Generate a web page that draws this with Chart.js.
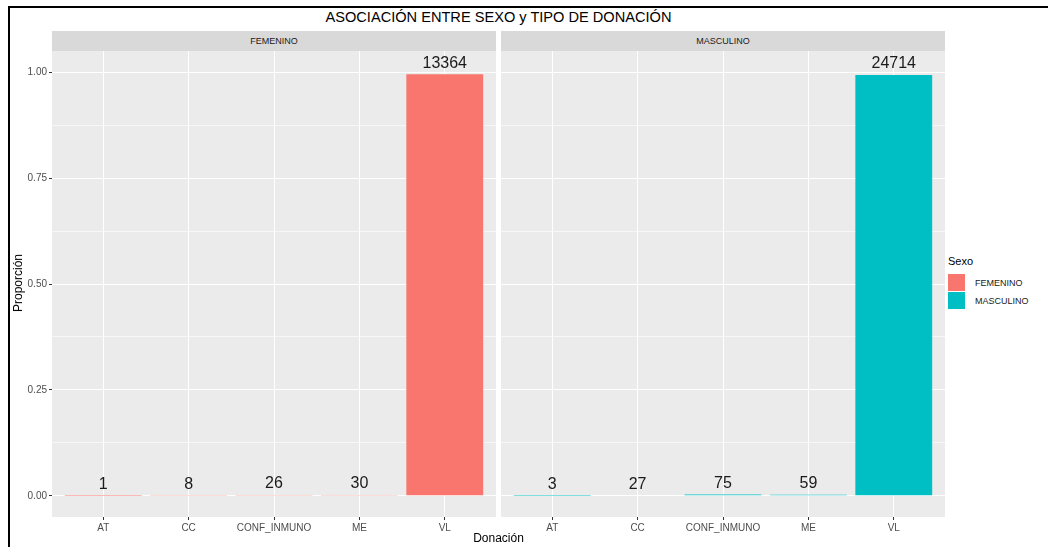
<!DOCTYPE html>
<html>
<head>
<meta charset="utf-8">
<script src="https://cdn.jsdelivr.net/npm/chart.js@4"></script>
<style>
  body { margin: 0; background: #fff; font-family: "Liberation Sans", Arial, sans-serif; }
  #wrap { position: relative; width: 1048px; height: 547px; overflow: hidden; }
  .abs { position: absolute; }
  .strip { background: #d9d9d9; color: #1a1a1a; font-size: 9px; text-align: center; line-height: 20px; top: 31px; height: 20px; }
  #title { left: 52px; width: 893px; top: 9px; text-align: center; font-size: 14.6px; color: #000; }
  #xtitle { left: 52px; width: 893px; top: 531px; text-align: center; font-size: 12px; color: #000; }
  #ytitle { left: 18px; top: 283px; font-size: 12px; color: #000; transform: translate(-50%, -50%) rotate(-90deg); white-space: nowrap; }
  .key { width: 17px; height: 17px; left: 948px; }
  .keylab { left: 975px; font-size: 9px; color: #1a1a1a; }
</style>
</head>
<body>
<div id="wrap">
  <div class="abs" style="left:8px;top:6px;width:1040px;height:2px;background:#000"></div>
  <div class="abs" style="left:8px;top:6px;width:2px;height:541px;background:#000"></div>
  <div id="title" class="abs">ASOCIACIÓN ENTRE SEXO y TIPO DE DONACIÓN</div>
  <div class="abs strip" style="left:52px;width:444px">FEMENINO</div>
  <div class="abs strip" style="left:501px;width:444px">MASCULINO</div>
  <canvas id="chartFem" class="abs" style="left:0;top:51px"></canvas>
  <canvas id="chartMasc" class="abs" style="left:501px;top:51px"></canvas>
  <div id="ytitle" class="abs">Proporción</div>
  <div id="xtitle" class="abs">Donación</div>
  <div class="abs" style="left:948px;top:255px;font-size:11px;color:#000">Sexo</div>
  <div class="abs key" style="top:274px;background:#F8766D"></div>
  <div class="abs key" style="top:292px;background:#00BFC4"></div>
  <div class="abs keylab" style="top:278px">FEMENINO</div>
  <div class="abs keylab" style="top:296px">MASCULINO</div>
</div>
<script>
const categories = ['AT', 'CC', 'CONF_INMUNO', 'ME', 'VL'];
const femeninoCounts = [1, 8, 26, 30, 13364];
const masculinoCounts = [3, 27, 75, 59, 24714];
const femeninoProp = [0.0001, 0.0006, 0.0019, 0.0022, 0.9952];
const masculinoProp = [0.0001, 0.0011, 0.0030, 0.0024, 0.9934];
const yTicks = [0, 0.125, 0.25, 0.375, 0.5, 0.625, 0.75, 0.875, 1];

// fondo gris del panel
const panelBg = {
  id: 'panelBg',
  beforeDraw(chart) {
    const a = chart.chartArea;
    chart.ctx.save();
    chart.ctx.fillStyle = '#ebebeb';
    chart.ctx.fillRect(a.left, a.top, a.right - a.left, a.bottom - a.top);
    chart.ctx.restore();
  }
};

// etiquetas con los conteos encima de cada barra
const countLabels = {
  id: 'countLabels',
  afterDatasetsDraw(chart) {
    const ctx = chart.ctx;
    const counts = chart.options.plugins.countLabels.counts;
    ctx.save();
    ctx.font = '16px "Liberation Sans", Arial, sans-serif';
    ctx.fillStyle = '#1a1a1a';
    ctx.textAlign = 'center';
    ctx.textBaseline = 'bottom';
    chart.getDatasetMeta(0).data.forEach((bar, i) => {
      ctx.fillText(counts[i], bar.x, bar.y - 3);
    });
    ctx.restore();
  }
};

function makeChart(id, values, counts, color, showY, width) {
  const canvas = document.getElementById(id);
  canvas.width = width;
  canvas.height = 496;
  canvas.style.width = width + 'px';
  canvas.style.height = '496px';
  return new Chart(canvas, {
    type: 'bar',
    data: {
      datasets: [{
        data: values.map((v, i) => ({ x: i, y: v })),
        backgroundColor: color,
        borderWidth: 0,
        barPercentage: 0.9,
        categoryPercentage: 1
      }]
    },
    options: {
      responsive: false,
      animation: false,
      events: [],
      layout: { padding: 0 },
      plugins: {
        legend: { display: false },
        tooltip: { enabled: false },
        countLabels: { counts: counts }
      },
      scales: {
        x: {
          type: 'linear',
          min: -0.6,
          max: 4.6,
          offset: false,
          afterBuildTicks: s => { s.ticks = categories.map((c, i) => ({ value: i })); },
          afterFit: s => { s.height = 30; s.paddingLeft = 0; s.paddingRight = 0; },
          ticks: {
            autoSkip: false,
            maxRotation: 0,
            padding: 2,
            color: '#4d4d4d',
            font: { size: 10, family: '"Liberation Sans", Arial, sans-serif' },
            callback: v => categories[v]
          },
          grid: { offset: false, color: '#ffffff', lineWidth: 1, tickColor: '#333333', tickLength: 3 },
          border: { display: false }
        },
        y: {
          min: -0.05,
          max: 1.05,
          afterBuildTicks: s => { s.ticks = yTicks.map(v => ({ value: v })); },
          afterFit: s => { s.width = showY ? 52 : 0; s.paddingTop = 0; s.paddingBottom = 0; },
          ticks: {
            display: showY,
            padding: 2,
            color: '#4d4d4d',
            font: { size: 10, family: '"Liberation Sans", Arial, sans-serif' },
            callback: v => (yTicks.indexOf(v) % 2 === 0 ? v.toFixed(2) : '')
          },
          grid: {
            color: '#ffffff',
            lineWidth: c => (c.index % 2 === 0 ? 1 : 0.6),
            drawTicks: showY,
            tickLength: 3,
            tickColor: c => (c.index % 2 === 0 ? '#333333' : 'rgba(0,0,0,0)')
          },
          border: { display: false }
        }
      }
    },
    plugins: [panelBg, countLabels]
  });
}

makeChart('chartFem', femeninoProp, femeninoCounts, '#F8766D', true, 496);
makeChart('chartMasc', masculinoProp, masculinoCounts, '#00BFC4', false, 444);
</script>
</body>
</html>
